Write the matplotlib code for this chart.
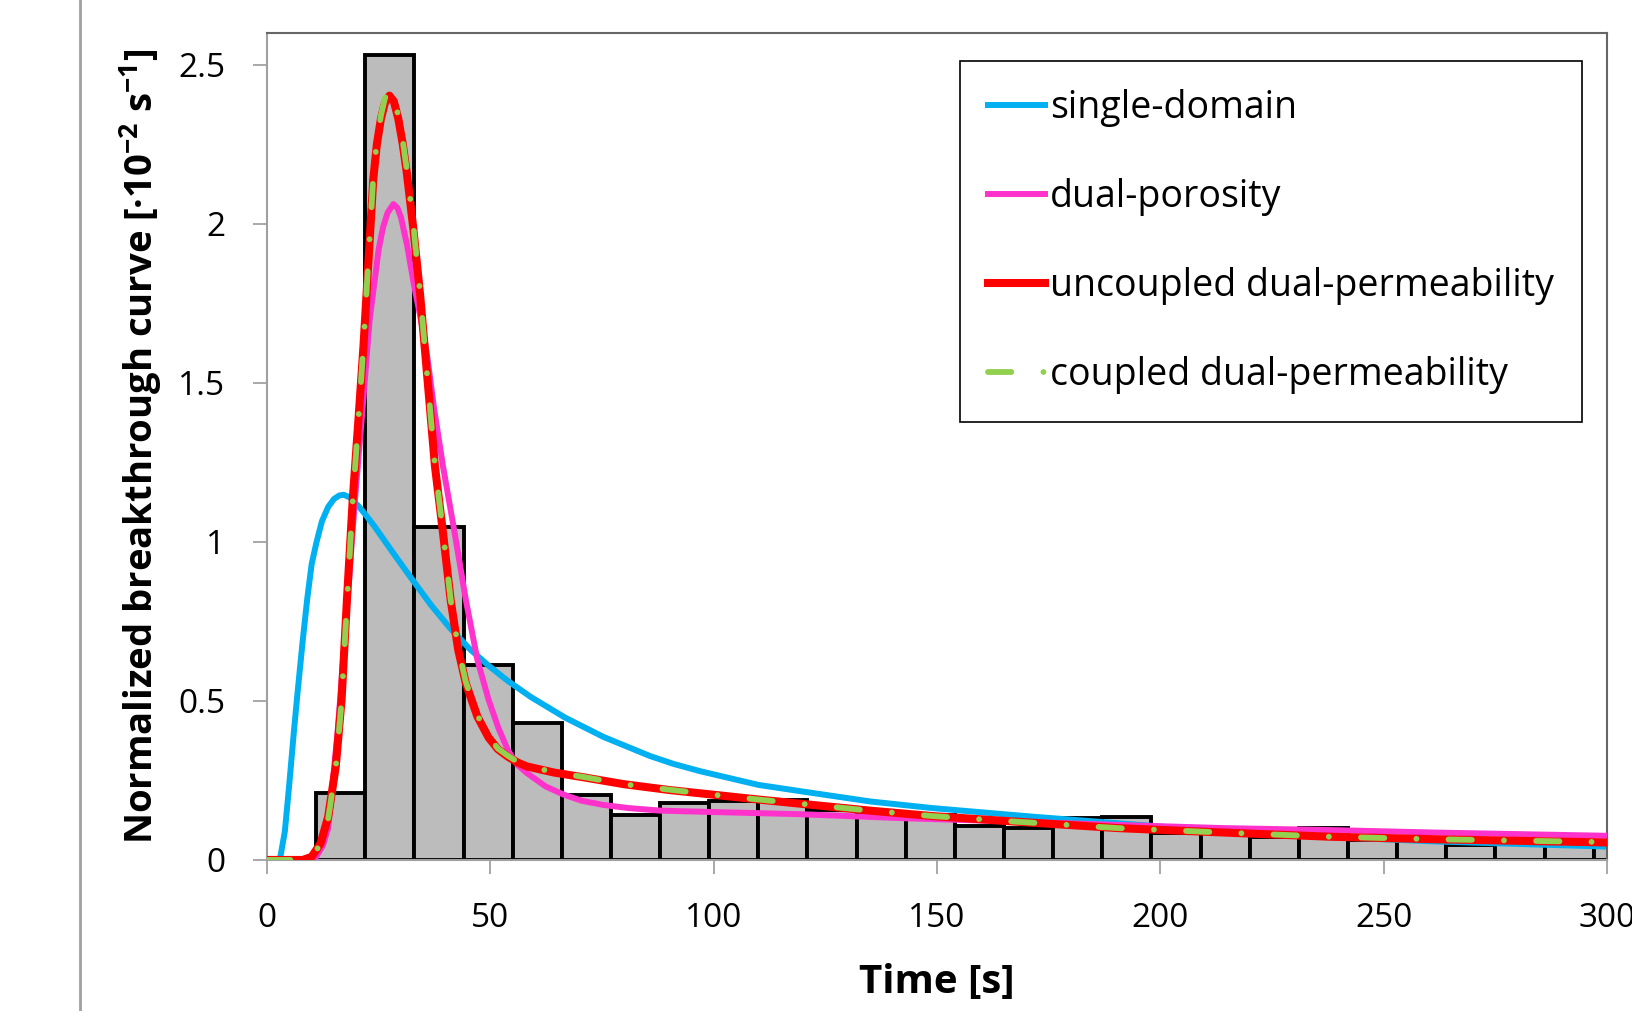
import matplotlib
matplotlib.use("Agg")
import matplotlib.pyplot as plt
from matplotlib.lines import Line2D

plt.rcParams['font.family'] = ['Open Sans', 'DejaVu Sans']
plt.rcParams['mathtext.fontset'] = 'custom'
plt.rcParams['mathtext.rm'] = 'Open Sans:bold'

# measured histogram (bins of 11 s)
bin_width = 11
bin_left = [11, 22, 33, 44, 55, 66, 77, 88, 99, 110, 121, 132, 143, 154, 165,
            176, 187, 198, 209, 220, 231, 242, 253, 264, 275, 286, 297]
bin_height = [0.21, 2.53, 1.048, 0.614, 0.43, 0.205, 0.142, 0.178, 0.184, 0.189,
              0.157, 0.152, 0.14, 0.107, 0.10, 0.131, 0.136, 0.086, 0.085, 0.071,
              0.102, 0.063, 0.06, 0.047, 0.055, 0.05, 0.05]

# model curves
t_single = [0, 2.5, 3.0, 4.0, 5.0, 6.0, 6.8, 8.0, 9.0, 10.0, 11.1, 12.3, 13.7, 15.0,
            16.2, 17.2, 18.5, 19.6, 20.5, 22.2, 24.0, 26.0, 28.2, 32.5, 36.8, 41.1,
            45.4, 49.6, 54.0, 59.1, 66.8, 75.3, 85.7, 91, 97.0, 110, 120, 135, 149,
            171.5, 200, 214.5, 238, 262, 300]
c_single = [0, 0, 0.01, 0.09, 0.24, 0.40, 0.52, 0.69, 0.82, 0.93, 1.0, 1.065, 1.11,
            1.135, 1.146, 1.148, 1.14, 1.125, 1.112, 1.083, 1.05, 1.01, 0.966, 0.882,
            0.80, 0.727, 0.663, 0.611, 0.562, 0.512, 0.447, 0.387, 0.327, 0.302,
            0.279, 0.236, 0.215, 0.184, 0.163, 0.136, 0.105, 0.088, 0.072, 0.058, 0.042]

t_porosity = [0, 9, 11, 12.5, 13.7, 15.8, 17.5, 19.7, 21.4, 23.0, 25.0, 26.0, 27.0,
              28.3, 29.2, 30.0, 31.4, 32.8, 34.3, 35.8, 37.3, 39.4, 42.0, 44.5, 47.1,
              49.6, 51.8, 53.9, 56.0, 58.2, 62.4, 66.5, 70.5, 75.3, 81, 88.2, 99, 119,
              143, 167, 190.7, 214.5, 238, 262, 300]
c_porosity = [0, 0, 0.01, 0.045, 0.10, 0.40, 0.714, 1.134, 1.42, 1.70, 1.92, 1.99,
              2.035, 2.062, 2.05, 2.02, 1.93, 1.816, 1.71, 1.59, 1.43, 1.238, 1.029,
              0.819, 0.629, 0.504, 0.415, 0.346, 0.30, 0.273, 0.231, 0.205, 0.186,
              0.173, 0.163, 0.155, 0.151, 0.144, 0.131, 0.121, 0.11, 0.10, 0.094,
              0.086, 0.076]

t_uncoupled = [0, 8, 10, 12, 13.7, 15.4, 16.7, 17.9, 19.2, 20.5, 21.6, 22.7, 23.8,
               24.6, 25.5, 26.4, 27.4, 28.4, 29.4, 30.4, 31.3, 32.8, 34.3, 36.0, 37.6,
               39.4, 41.1, 42.8, 44.5, 47.1, 49.6, 51.7, 53.9, 56.0, 58.2, 64.2, 70.8,
               80, 90, 100, 110, 120, 135, 149, 167, 190.7, 214.5, 238, 262, 300]
c_uncoupled = [0, 0, 0.01, 0.052, 0.136, 0.294, 0.504, 0.819, 1.134, 1.39, 1.616,
               1.879, 2.141, 2.25, 2.33, 2.38, 2.403, 2.385, 2.33, 2.25, 2.16, 1.98,
               1.774, 1.50, 1.238, 1.029, 0.819, 0.661, 0.556, 0.451, 0.385, 0.348,
               0.325, 0.307, 0.294, 0.275, 0.26, 0.238, 0.22, 0.205, 0.19, 0.176,
               0.155, 0.138, 0.121, 0.10, 0.086, 0.073, 0.065, 0.055]

t_coupled = [0, 8, 10, 12, 13.7, 15.4, 16.7, 17.9, 19.2, 20.5, 21.6, 22.7, 23.8,
             24.6, 25.5, 26.4, 27.3, 28.3, 29.4, 30.4, 31.3, 32.8, 34.3, 36.0, 37.6,
             39.4, 41.1, 42.8, 44.5, 47.1, 49.6, 51.7, 53.9, 56.0, 58.2, 64.2, 70.8,
             80, 90, 100, 110, 120, 135, 149, 167, 190.7, 214.5, 238, 262, 300]
c_coupled = [0, 0, 0.01, 0.05, 0.13, 0.29, 0.50, 0.81, 1.13, 1.39, 1.62, 1.89, 2.15,
             2.26, 2.34, 2.395, 2.42, 2.40, 2.34, 2.26, 2.17, 1.99, 1.78, 1.50, 1.24,
             1.03, 0.82, 0.665, 0.56, 0.455, 0.388, 0.35, 0.328, 0.309, 0.296, 0.276,
             0.261, 0.238, 0.221, 0.205, 0.19, 0.176, 0.155, 0.138, 0.121, 0.10,
             0.086, 0.073, 0.065, 0.056]

x_ticks = [0, 50, 100, 150, 200, 250, 300]
y_ticks = [0, 0.5, 1, 1.5, 2, 2.5]
y_tick_labels = ['0', '0.5', '1', '1.5', '2', '2.5']

fig = plt.figure(figsize=(16.33, 10.11), dpi=100)
ax = fig.add_axes([0.1635, 0.1494, 0.8206, 0.818])

ax.bar(bin_left, bin_height, width=bin_width, align='edge', color='#BCBCBC',
       edgecolor='black', linewidth=2.8, zorder=1)

ax.plot(t_single, c_single, color='#00B0F0', lw=4.3, label='single-domain', zorder=2)
ax.plot(t_porosity, c_porosity, color='#FF33CC', lw=4.3, label='dual-porosity', zorder=3)
ax.plot(t_uncoupled, c_uncoupled, color='#FF0000', lw=5.8,
        label='uncoupled dual-permeability', zorder=4)
ax.plot(t_coupled, c_coupled, color='#92D050', lw=4.2, dashes=(4, 5.5, 0.01, 5.5),
        dash_capstyle='round', label='coupled dual-permeability', zorder=5)

ax.set_xlim(0, 300)
ax.set_ylim(0, 2.6)
ax.set_xticks(x_ticks)
ax.set_yticks(y_ticks)
ax.set_yticklabels(y_tick_labels)
ax.tick_params(axis='both', direction='out', length=10, width=1.2, color='#999999',
               labelsize=24)
ax.tick_params(axis='x', pad=20)
ax.tick_params(axis='y', pad=20)
for tl in ax.get_xticklabels() + ax.get_yticklabels():
    tl.set_color('black')

for side in ['left', 'bottom']:
    ax.spines[side].set_color('#A0A0A0')
    ax.spines[side].set_linewidth(1.5)
for side in ['top', 'right']:
    ax.spines[side].set_color('#666666')
    ax.spines[side].set_linewidth(1.5)

ax.set_xlabel('Time [s]', fontsize=29, fontweight='bold')
ax.xaxis.set_label_coords(0.5, -0.124)
ax.set_ylabel('Normalized breakthrough curve [·10$^{\\mathrm{-2}}$ s$^{\\mathrm{-1}}$]',
              fontsize=27.5, fontweight='bold')
ax.yaxis.set_label_coords(-0.077, 0.5)

leg = ax.legend(loc='upper right', bbox_to_anchor=(0.9813, 0.966), borderaxespad=0,
                fontsize=27, handlelength=1.5, handletextpad=0.14, borderpad=0.75,
                labelspacing=1.36, fancybox=False, framealpha=1)
leg.get_frame().set_edgecolor('black')
leg.get_frame().set_linewidth(1.2)

# left frame line of the original page
fig.add_artist(Line2D([0.049, 0.049], [0, 1], transform=fig.transFigure,
                      color='#A0A0A0', lw=2))

fig.savefig('out.png', dpi=100)
